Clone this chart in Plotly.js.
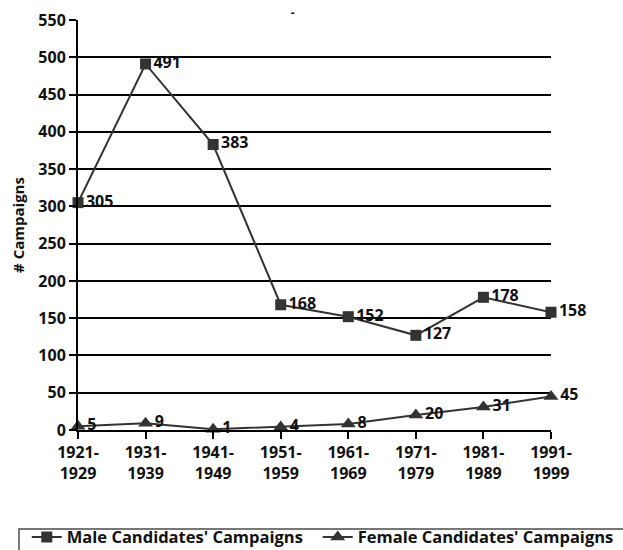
<!DOCTYPE html>
<html><head><meta charset="utf-8">
<script src="https://cdn.plot.ly/plotly-3.0.1.min.js"></script>
<style>html,body{margin:0;padding:0;background:#fff}</style>
</head><body>
<div id="chart" style="width:623px;height:550px"></div>
<script>
var categories = ["1921-<br>1929","1931-<br>1939","1941-<br>1949","1951-<br>1959","1961-<br>1969","1971-<br>1979","1981-<br>1989","1991-<br>1999"];
var maleValues = [305, 491, 383, 168, 152, 127, 178, 158];
var femaleValues = [5, 9, 1, 4, 8, 20, 31, 45];
var yTicks = [0,50,100,150,200,250,300,350,400,450,500,550];

var fontFam = "Open Sans, DejaVu Sans, sans-serif";
var labelFont = {family: fontFam, size: 16, color: "#111", weight: 700};
var legendFont = {family: fontFam, size: 16.5, color: "#111", weight: 700};

var traces = [
  {x: categories, y: maleValues, name: "Male Candidates' Campaigns", type: "scatter",
   mode: "lines+markers+text", text: maleValues.map(String), textposition: "middle right",
   textfont: labelFont, cliponaxis: false, legend: "legend",
   line: {color: "#333", width: 2}, marker: {symbol: "square", size: 11, color: "#333"}},
  {x: categories, y: femaleValues, name: "Female Candidates' Campaigns", type: "scatter",
   mode: "lines+markers+text", text: femaleValues.map(String), textposition: "middle right",
   textfont: labelFont, cliponaxis: false, legend: "legend2",
   line: {color: "#333", width: 2}, marker: {symbol: "triangle-up", size: 13, color: "#333"}}
];

var layout = {
  width: 623, height: 550,
  margin: {l: 78, r: 72, t: 20, b: 120, autoexpand: false},
  paper_bgcolor: "#fff", plot_bgcolor: "#fff",
  title: {text: "-", font: {family: fontFam, size: 12, color: "#111", weight: 700},
    x: 0.47, xanchor: "center", y: 0.985, yanchor: "top"},
  font: {family: fontFam, color: "#111"},
  xaxis: {type: "category", range: [0, 7], showgrid: false, zeroline: false, automargin: false,
    showline: true, linecolor: "#000", linewidth: 2,
    ticks: "outside", ticklen: 7, tickwidth: 2, tickcolor: "#000",
    tickfont: {family: fontFam, size: 16, color: "#111", weight: 700}},
  yaxis: {range: [0, 550], tickvals: yTicks, showgrid: true, gridcolor: "#000", gridwidth: 2,
    zeroline: false, showline: true, linecolor: "#000", linewidth: 2, automargin: false,
    ticks: "outside", ticklen: 7, tickwidth: 2, tickcolor: "#000",
    tickfont: {family: fontFam, size: 16, color: "#111", weight: 700},
    title: {text: "# Campaigns", font: {family: fontFam, size: 15, color: "#111", weight: 700}, standoff: 10}},
  showlegend: true,
  legend: {orientation: "h", xref: "container", yref: "container",
    x: 0.043, xanchor: "left", y: 0.055, yanchor: "top",
    borderwidth: 0, bgcolor: "rgba(0,0,0,0)", font: legendFont, itemwidth: 30},
  legend2: {orientation: "h", xref: "container", yref: "container",
    x: 0.51, xanchor: "left", y: 0.055, yanchor: "top",
    borderwidth: 0, bgcolor: "rgba(0,0,0,0)", font: legendFont, itemwidth: 30},
  shapes: [{type: "rect", xref: "paper", yref: "paper", layer: "below",
    x0: -0.1247, x1: 1.16, y0: -0.2415, y1: -0.32,
    line: {color: "#777", width: 2}, fillcolor: "rgba(0,0,0,0)"}]
};

Plotly.newPlot("chart", traces, layout, {displayModeBar: false, staticPlot: true});
</script>
</body></html>
